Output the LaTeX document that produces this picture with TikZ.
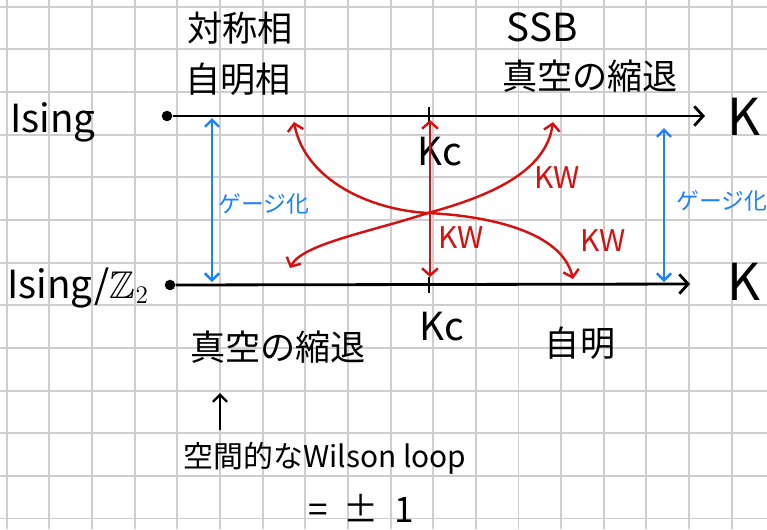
\documentclass[tikz,border=0pt]{standalone}
\usepackage{amssymb}
\usepackage{fontspec}
\newfontfamily\jpfont{Noto Sans CJK JP}
\usetikzlibrary{arrows.meta,positioning}
\definecolor{penred}{RGB}{212,18,18}
\definecolor{penblue}{RGB}{26,130,250}
\definecolor{gridgray}{RGB}{206,206,206}

\begin{document}
\begin{tikzpicture}[x=0.02cm, y=-0.02cm,
  gridline/.style={gridgray, line width=1.1pt},
  axis/.style={-{Straight Barb[length=5pt,width=11pt]}, line width=1.6pt, black},
  tickmark/.style={line width=1.6pt, black},
  dot/.style={circle, fill=black, inner sep=0pt, minimum size=6pt},
  gauge/.style={{Straight Barb[length=4pt,width=8pt]}-{Straight Barb[length=4pt,width=8pt]}, line width=1.4pt, penblue},
  kw/.style={{Straight Barb[length=4pt,width=9pt]}-{Straight Barb[length=4pt,width=9pt]}, line width=1.4pt, penred},
  ptr/.style={-{Straight Barb[length=4pt,width=8pt]}, line width=1.4pt, black},
  jp/.style={font=\jpfont\fontsize{20}{24}\selectfont, inner sep=0pt},
  big/.style={font=\jpfont\fontsize{29}{32}\selectfont, inner sep=0pt, anchor=base},
  model/.style={font=\jpfont\fontsize{22}{26}\selectfont, inner sep=0pt},
  crit/.style={font=\jpfont\fontsize{22}{26}\selectfont, inner sep=0pt, anchor=base west},
  gaugelbl/.style={font=\jpfont\fontsize{13}{16}\selectfont, text=penblue, inner sep=0pt},
  kwlbl/.style={font=\jpfont\fontsize{17}{20}\selectfont, text=penred, inner sep=0pt}
]
  \fill[white] (0,0) rectangle (767,529);
  \useasboundingbox (0,0) rectangle (767,529);
  \foreach \i in {0,...,17}
    \draw[gridline] ({6.7+42.65*\i},0) -- ({6.7+42.65*\i},529);
  \foreach \j in {0,...,12}
    \draw[gridline] (0,{6.7+42.65*\j}) -- (767,{6.7+42.65*\j});

  \node[dot] (top0) at (167,116) {};
  \coordinate (top1) at (705,116);
  \node[dot] (bot0) at (170,285) {};
  \coordinate (bot1) at (690,284);
  \coordinate (kcTop) at (429,116);
  \coordinate (kcBot) at (429,284);

  \draw[axis] (top0) -- (top1);
  \draw[axis] (bot0) -- (bot1);
  \draw[tickmark] (kcTop) ++(0,-9) -- ++(0,17);
  \draw[tickmark] (kcBot) ++(0,-7) -- ++(0,16);

  \node[model, anchor=base] (ising) at (53,132) {Ising};
  \node[model, anchor=base west] (isingz) at (7,298) {Ising/$\mathbb{Z}_2$};
  \node[big] (ktop) at (744,135) {K};
  \node[big] (kbot) at (744,300) {K};
  \node[crit] (kctop) at (417,165) {Kc};
  \node[crit] (kcbot) at (419,340) {Kc};

  \node[jp] (sym) at (240,28) {対称相};
  \node[jp] (triv) at (238,79) {自明相};
  \node[model] (ssb) at (542,27) {SSB};
  \node[jp] (degtop) at (590,76) {真空の縮退};
  \node[jp] (degbot) at (278,347) {真空の縮退};
  \node[jp] (trivbot) at (580,343) {自明};
  \node[font=\jpfont\fontsize{17}{20}\selectfont, inner sep=0pt] (wilson) at (325,458) {空間的なWilson loop};
  \node[jp] (pm) at (361,508) {=\ \ ±\ \ 1};

  \coordinate (gL1) at (212,118);
  \coordinate (gL2) at (212,282);
  \coordinate (gR1) at (664,128);
  \coordinate (gR2) at (664,282);
  \draw[gauge] (gL1) -- (gL2);
  \draw[gauge] (gR1) -- (gR2);
  \node[gaugelbl] (gaugeL) at (264,204) {ゲージ化};
  \node[gaugelbl] (gaugeR) at (722,201) {ゲージ化};

  \coordinate (kwC) at (428,213);
  \coordinate (kwA1) at (294,122);
  \coordinate (kwA2) at (573,279);
  \coordinate (kwB1) at (290,268);
  \coordinate (kwB2) at (553,122);
  \coordinate (kwV1) at (430,120);
  \coordinate (kwV2) at (430,277);
  \draw[kw] (kwA1) .. controls (305,180) and (370,210) .. (kwC)
    .. controls (490,216) and (562,232) .. (kwA2);
  \draw[kw] (kwB1) .. controls (302,244) and (370,232) .. (kwC)
    .. controls (490,196) and (546,172) .. (kwB2);
  \draw[kw] (kwV1) -- (kwV2);
  \node[kwlbl] (kw1) at (557,178) {KW};
  \node[kwlbl] (kw2) at (461,238) {KW};
  \node[kwlbl] (kw3) at (603,241) {KW};

  \coordinate (ptr0) at (220,430);
  \coordinate (ptr1) at (220,393);
  \draw[ptr] (ptr0) -- (ptr1);
\end{tikzpicture}
\end{document}
